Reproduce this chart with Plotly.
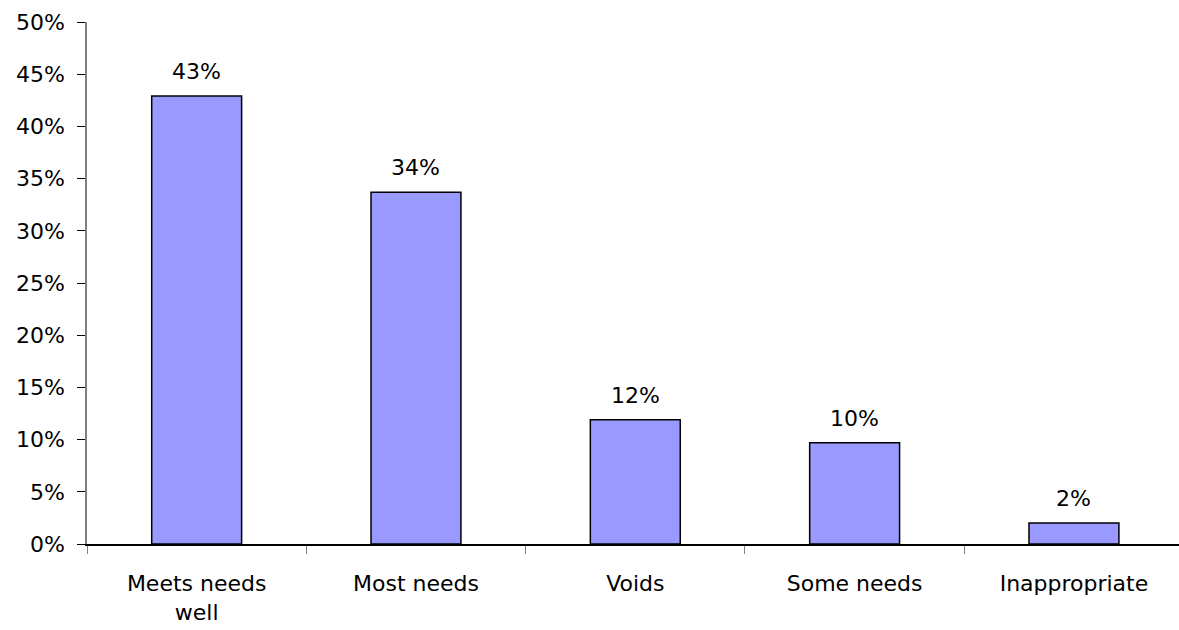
import plotly.graph_objects as go

categories = ["Meets needs<br>well", "Most needs", "Voids", "Some needs", "Inappropriate"]
values = [42.9, 33.7, 11.9, 9.7, 2.0]
labels = ["43%", "34%", "12%", "10%", "2%"]
y_ticks = [0, 5, 10, 15, 20, 25, 30, 35, 40, 45, 50]
y_tick_labels = [f"{v}%" for v in y_ticks]

font = "DejaVu Sans, Verdana, sans-serif"
fs = 22

fig = go.Figure(go.Bar(
    x=categories, y=values,
    marker=dict(color="#9999FF", line=dict(color="black", width=1.5)),
    width=0.41, cliponaxis=False,
))
for c, v, t in zip(categories, values, labels):
    fig.add_annotation(x=c, y=v, text=t, showarrow=False, yanchor="bottom",
                       yshift=10, font=dict(family=font, size=fs, color="black"))

fig.update_layout(
    width=1179, height=630,
    margin=dict(l=87, r=0, t=22, b=86),
    plot_bgcolor="white", paper_bgcolor="white",
    showlegend=False,
    font=dict(family=font, size=fs, color="black"),
)
fig.update_xaxes(
    range=[-0.5, 4.479], showline=True, linecolor="black", linewidth=1.5,
    ticks="outside", tickson="boundaries", ticklen=8, tickcolor="#808080",
    tickfont=dict(family=font, size=fs, color="black"), showgrid=False,
    ticklabelstandoff=19,
)
fig.update_yaxes(
    range=[0, 50], tickvals=y_ticks, ticktext=y_tick_labels,
    showline=True, linecolor="#808080", linewidth=1.5,
    ticks="outside", ticklen=8, tickcolor="black",
    tickfont=dict(family=font, size=fs, color="black"), showgrid=False,
    zeroline=False, ticklabelstandoff=8,
)

fig.write_html("out.html")
